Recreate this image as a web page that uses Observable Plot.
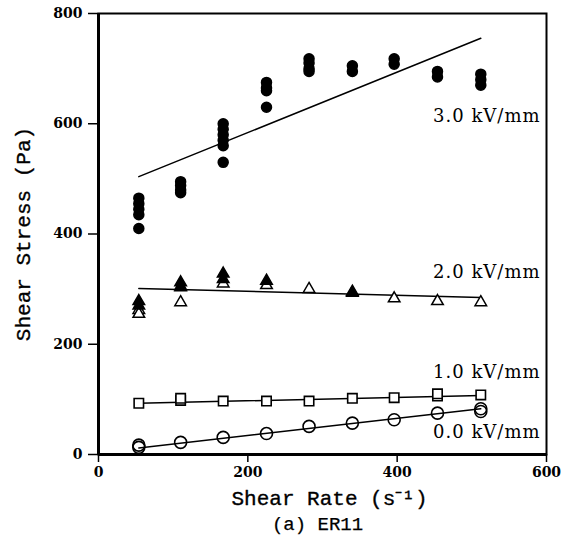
<!DOCTYPE html>
<html>
<head>
<meta charset="utf-8">
<script src="https://cdn.jsdelivr.net/npm/d3@7"></script>
<script src="https://cdn.jsdelivr.net/npm/@observablehq/plot@0.6"></script>
<style>
  html, body { margin: 0; padding: 0; background: #fff; }
</style>
</head>
<body>
<div id="chart"></div>
<script>
// ---- data ----
const shearRate = [54, 110, 167, 225, 282, 340, 396, 454, 512];
const stress3kV = [[465,455,445,435,410],[495,488,480,475],[600,590,580,570,560,530],[675,665,660,630],[718,710,700,695],[705,695],[718,708],[695,685],[690,680,670]];
const stress2kVFilled = [[278,270],[312,305],[328,318],[315],[],[295],[],[],[]];
const stress2kVOpen = [[262,255],[303,276],[310],[307],[300],[293],[283],[278],[276]];
const stress1kV = [[93],[98,102],[97],[97],[97],[102],[103],[106,110],[108]];
const stress0kV = [[13,17],[22],[31],[38],[51],[57],[63],[75],[78,83]];

const fitNames = ["3.0 kV/mm", "2.0 kV/mm", "1.0 kV/mm", "0.0 kV/mm"];
const fitX = [54, 512];
const fitY = [[504, 755], [301, 285], [93, 107], [12, 83]];
const labelY = [613, 330, 149, 40];
const labelX = 592;

const xTicks = [0, 200, 400, 600];
const yTicks = [0, 200, 400, 600, 800];
const xLabel = "Shear Rate (s\u207B\u00B9)";
const yLabel = "Shear Stress (Pa)";
const caption = "(a) ER11";

// ---- build tables ----
const toRows = (arr) => arr.flatMap((vals, i) => vals.map(v => ({x: shearRate[i], y: v})));
const rows3 = toRows(stress3kV);
const rows2f = toRows(stress2kVFilled);
const rows2o = toRows(stress2kVOpen);
const rows1 = toRows(stress1kV);
const rows0 = toRows(stress0kV);
const fitRows = fitNames.flatMap((name, i) => fitX.map((x, j) => ({name, x, y: fitY[i][j]})));
const labelRows = fitNames.map((name, i) => ({name, x: labelX, y: labelY[i]}));

const labelFont = "Liberation Mono";
const plot = Plot.plot({
  width: 578,
  height: 547,
  marginLeft: 98,
  marginRight: 32,
  marginTop: 13,
  marginBottom: 93,
  style: {fontFamily: "DejaVu Serif", background: "white", color: "black"},
  x: {domain: [0, 600]},
  y: {domain: [0, 800]},
  marks: [
    Plot.frame({stroke: "black", strokeWidth: 2}),
    Plot.ruleX([0], {stroke: "black", strokeWidth: 3}),
    Plot.ruleY([0], {stroke: "black", strokeWidth: 3}),
    Plot.axisX({ticks: xTicks, tickSize: 8, tickPadding: 5, fontSize: 14, fontWeight: "bold", label: null, strokeWidth: 1.5}),
    Plot.axisY({ticks: yTicks, tickSize: 10, tickPadding: 6, fontSize: 14, fontWeight: "bold", label: null, strokeWidth: 1.5}),
    Plot.line(fitRows, {x: "x", y: "y", z: "name", stroke: "black", strokeWidth: 1.5}),
    Plot.dot(rows3, {x: "x", y: "y", r: 5, fill: "black", stroke: "black"}),
    Plot.dot(rows2o, {x: "x", y: "y", symbol: "triangle", r: 4.3, fill: "white", stroke: "black", strokeWidth: 1.5}),
    Plot.dot(rows2f, {x: "x", y: "y", symbol: "triangle", r: 4.3, fill: "black", stroke: "black", strokeWidth: 1.5}),
    Plot.dot(rows1, {x: "x", y: "y", symbol: "square", r: 5.3, fill: "white", stroke: "black", strokeWidth: 1.6}),
    Plot.dot(rows0, {x: "x", y: "y", symbol: "circle", r: 6, fill: "none", stroke: "black", strokeWidth: 1.6}),
    Plot.text(labelRows, {x: "x", y: "y", text: "name", textAnchor: "end", fontSize: 18, fill: "black"}),
    Plot.text([yLabel], {frameAnchor: "left", textAnchor: "middle", lineAnchor: "middle", dx: -75, rotate: -90, fontSize: 21, fontFamily: labelFont, fill: "black", stroke: "black", strokeWidth: 0.35, text: d => d}),
    Plot.text([xLabel], {frameAnchor: "bottom", textAnchor: "middle", lineAnchor: "middle", dx: 7, dy: 44, fontSize: 21, fontFamily: labelFont, fill: "black", stroke: "black", strokeWidth: 0.35, text: d => d}),
    Plot.text([caption], {frameAnchor: "bottom", textAnchor: "middle", lineAnchor: "middle", dx: -5, dy: 69, fontSize: 19, fontFamily: labelFont, fill: "black", stroke: "black", strokeWidth: 0.25, text: d => d})
  ]
});
d3.select(plot).selectAll("text")
  .filter(function () { return fitNames.includes(this.textContent); })
  .attr("letter-spacing", "1");
document.getElementById("chart").appendChild(plot);
</script>
</body>
</html>
